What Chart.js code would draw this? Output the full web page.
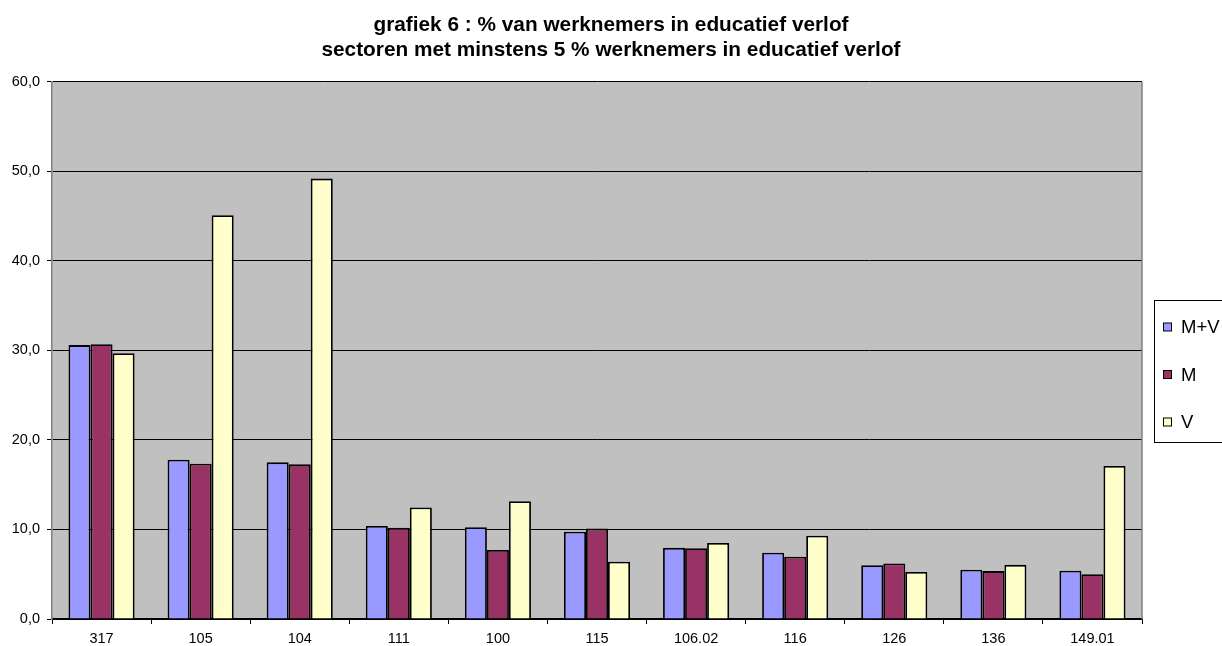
<!DOCTYPE html>
<html>
<head>
<meta charset="utf-8">
<script src="https://cdn.jsdelivr.net/npm/chart.js@4/dist/chart.umd.min.js"></script>
<style>
html,body{margin:0;padding:0;background:#fff;}
canvas{display:block;}
</style>
</head>
<body>
<canvas id="c" width="1222" height="646"></canvas>
<script>
const titleLines = ['grafiek 6 : % van werknemers in educatief verlof', 'sectoren met minstens 5 % werknemers in educatief verlof'];
const categories = ['317', '105', '104', '111', '100', '115', '106.02', '116', '126', '136', '149.01'];
const seriesNames = ['M+V', 'M', 'V'];
const valuesMV = [30.6, 17.8, 17.5, 10.4, 10.25, 9.75, 7.95, 7.4, 6.0, 5.5, 5.4];
const valuesM  = [30.7, 17.35, 17.3, 10.2, 7.7, 10.1, 7.9, 6.95, 6.2, 5.35, 5.0];
const valuesV  = [29.7, 45.1, 49.2, 12.45, 13.15, 6.4, 8.5, 9.3, 5.25, 6.05, 17.1];
const yTickLabels = ['0,0', '10,0', '20,0', '30,0', '40,0', '50,0', '60,0'];
const colors = ['#9999FF', '#993366', '#FFFFCC'];

const FONT = "'Liberation Sans', Arial, sans-serif";

const plotBg = {
  id: 'plotBg',
  beforeDraw(chart) {
    const {ctx, chartArea: a} = chart;
    ctx.save();
    ctx.fillStyle = '#C0C0C0';
    ctx.fillRect(a.left, a.top, a.right - a.left, a.bottom - a.top);
    ctx.restore();
  },
  afterDatasetsDraw(chart) {
    const {ctx, chartArea: a} = chart;
    ctx.save();
    ctx.strokeStyle = '#808080';
    ctx.lineWidth = 1.5;
    ctx.beginPath();
    ctx.moveTo(a.right, a.top);
    ctx.lineTo(a.right, a.bottom);
    ctx.stroke();
    ctx.restore();
  }
};

const boxLegend = {
  id: 'boxLegend',
  afterDraw(chart) {
    const ctx = chart.ctx;
    const ds = chart.data.datasets;
    ctx.save();
    ctx.fillStyle = '#fff';
    ctx.fillRect(1154.5, 300.5, 80, 142);
    ctx.strokeStyle = '#000';
    ctx.lineWidth = 1;
    ctx.strokeRect(1154.5, 300.5, 80, 142);
    const ys = [327, 374.5, 422];
    ctx.font = '18.5px ' + FONT;
    ctx.textBaseline = 'middle';
    ctx.textAlign = 'left';
    ds.forEach((d, i) => {
      ctx.fillStyle = d.backgroundColor;
      ctx.fillRect(1163.5, ys[i] - 4, 8, 8);
      ctx.strokeStyle = '#000';
      ctx.strokeRect(1163.5, ys[i] - 4, 8, 8);
      ctx.fillStyle = '#000';
      ctx.fillText(d.label, 1181, ys[i] + 1);
    });
    ctx.restore();
  }
};

const seriesValues = [valuesMV, valuesM, valuesV];

new Chart(document.getElementById('c'), {
  type: 'bar',
  data: {
    labels: categories,
    datasets: seriesNames.map((n, i) => ({
      label: n,
      data: seriesValues[i],
      backgroundColor: colors[i],
      borderColor: '#000',
      borderWidth: 1.8,
      categoryPercentage: 0.667,
      barPercentage: 1.0
    }))
  },
  options: {
    responsive: false,
    animation: false,
    devicePixelRatio: 1,
    layout: { padding: 0 },
    plugins: {
      legend: { display: false },
      tooltip: { enabled: false },
      title: {
        display: true,
        text: titleLines,
        color: '#000',
        font: { family: FONT, size: 20.8, weight: 'bold', lineHeight: 1.2 },
        padding: { top: 13, bottom: 19 }
      }
    },
    scales: {
      x: {
        grid: { drawOnChartArea: false, drawTicks: true, tickLength: 5, color: '#000', lineWidth: 1 },
        border: { display: true, color: '#000', width: 1.5 },
        ticks: { color: '#000', font: { family: FONT, size: 14.5 }, padding: 6, maxRotation: 0, autoSkip: false },
        afterFit(scale) { scale.height = 27; }
      },
      y: {
        min: 0, max: 60,
        grid: { color: '#000', lineWidth: 1, tickLength: 5, drawTicks: true },
        border: { display: true, color: '#808080', width: 1.5 },
        ticks: {
          stepSize: 10,
          color: '#000',
          font: { family: FONT, size: 14.5 },
          padding: 7,
          callback: (v, i) => yTickLabels[i]
        },
        afterFit(scale) { scale.width = 52; }
      },
      yR: {
        position: 'right',
        display: true,
        grid: { display: false, drawTicks: false },
        border: { display: false },
        ticks: { display: false },
        afterFit(scale) { scale.width = 80; }
      }
    }
  },
  plugins: [plotBg, boxLegend]
});
</script>
</body>
</html>
